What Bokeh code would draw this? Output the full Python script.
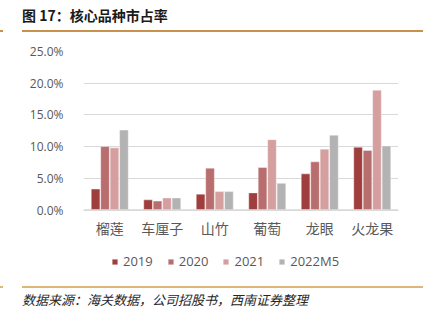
from bokeh.plotting import figure
from bokeh.models import (ColumnDataSource, FactorRange, Range1d, FixedTicker,
                          NumeralTickFormatter, Legend, LegendItem, Div, Span)
from bokeh.core.properties import value
from bokeh.layouts import column
from bokeh.transform import dodge
from bokeh.embed import file_html
from bokeh.resources import INLINE

categories = ["榴莲", "车厘子", "山竹", "葡萄", "龙眼", "火龙果"]
series_names = ["2019", "2020", "2021", "2022M5"]
v2019 = [0.033, 0.016, 0.025, 0.027, 0.057, 0.099]
v2020 = [0.100, 0.014, 0.066, 0.067, 0.076, 0.094]
v2021 = [0.098, 0.019, 0.029, 0.111, 0.096, 0.189]
v2022 = [0.126, 0.019, 0.029, 0.042, 0.118, 0.101]
y_ticks = [0.0, 0.05, 0.10, 0.15, 0.20, 0.25]
colors = ["#A03E3E", "#B86E6E", "#D59F9F", "#B3B3B3"]
title_text = "图 17：核心品种市占率"
source_text = "数据来源：海关数据，公司招股书，西南证券整理"

src = ColumnDataSource(dict(cat=categories, s0=v2019, s1=v2020, s2=v2021, s3=v2022))

# frame: 229 px tall; value axis 0..25% occupies top 158.5 px, rest holds labels + legend
Y_TOP = 0.25
Y_BOTTOM = -(229 - 158.5) / 158.5 * Y_TOP

p = figure(width=430, height=244, x_range=FactorRange(*categories),
           y_range=Range1d(Y_BOTTOM, Y_TOP), output_backend="svg", toolbar_location=None,
           min_border_left=83, min_border_right=32, min_border_top=11,
           min_border_bottom=4, margin=0)
p.outline_line_color = None
p.background_fill_color = "white"
p.border_fill_color = "white"

p.add_layout(Span(location=0, dimension="width", line_color="#D9D9D9", line_width=1.6))

offsets = [-0.27, -0.09, 0.09, 0.27]
renderers = []
for i, col in enumerate(["s0", "s1", "s2", "s3"]):
    r = p.vbar(x=dodge("cat", offsets[i], range=p.x_range), top=col, width=0.165,
               source=src, fill_color=colors[i], line_color="white",
               line_alpha=0.5, line_width=0.8)
    renderers.append(r)

# category labels under the zero line
p.text(x="cat", y=value(0), text="cat", source=src, y_offset=18,
       text_font=value("Noto Sans CJK SC"), text_font_size="14px",
       text_color="#595959", text_align="center", text_baseline="middle")

# axes
p.xaxis.visible = False
p.yaxis.ticker = FixedTicker(ticks=y_ticks)
p.yaxis.formatter = NumeralTickFormatter(format="0.0%")
p.yaxis.axis_line_color = None
p.yaxis.major_tick_line_color = None
p.yaxis.minor_tick_line_color = None
p.yaxis.major_label_standoff = 14
p.yaxis.major_label_text_font = "Open Sans"
p.yaxis.major_label_text_font_size = "12px"
p.yaxis.major_label_text_color = "#595959"

p.xgrid.grid_line_color = None
p.ygrid.grid_line_color = "#D9D9D9"
p.ygrid.grid_line_width = 1.2

legend = Legend(items=[LegendItem(label=series_names[i], renderers=[renderers[i]])
                       for i in range(4)],
                orientation="horizontal", location=(28, 10),
                glyph_width=7, glyph_height=7, label_standoff=5, spacing=14,
                label_text_font="Open Sans", label_text_font_size="13px",
                label_text_color="#595959", border_line_color=None,
                background_fill_alpha=0, margin=0, padding=4)
p.add_layout(legend, "center")

title_html = (
    '<div style="position:relative;width:430px;height:40px;">'
    '<div style="position:absolute;left:22px;top:5px;font-family:\'Noto Sans CJK SC\';'
    'font-size:14px;font-weight:bold;color:#1A1A1A;line-height:20px;white-space:nowrap;">'
    + title_text + '</div>'
    '<div style="position:absolute;left:22px;top:30px;width:401px;height:2px;background:#C8924A;"></div>'
    '<div style="position:absolute;left:0px;top:30px;width:3px;height:2px;background:#C8924A;"></div>'
    '</div>'
)
source_html = (
    '<div style="position:relative;width:430px;height:38px;">'
    '<div style="position:absolute;left:22px;top:2px;width:401px;height:2px;background:#DDB77A;"></div>'
    '<div style="position:absolute;left:0px;top:2px;width:3px;height:2px;background:#DDB77A;"></div>'
    '<div style="position:absolute;left:22px;top:6px;font-family:\'Noto Sans CJK SC\';'
    'font-size:13px;font-style:italic;color:#262626;line-height:20px;white-space:nowrap;">'
    + source_text + '</div>'
    '</div>'
)
title_div = Div(text=title_html, width=430, height=40, margin=0)
source_div = Div(text=source_html, width=430, height=38, margin=0)

layout = column(title_div, p, source_div, spacing=0, margin=0)
open("out.html", "w").write(file_html(layout, INLINE))
